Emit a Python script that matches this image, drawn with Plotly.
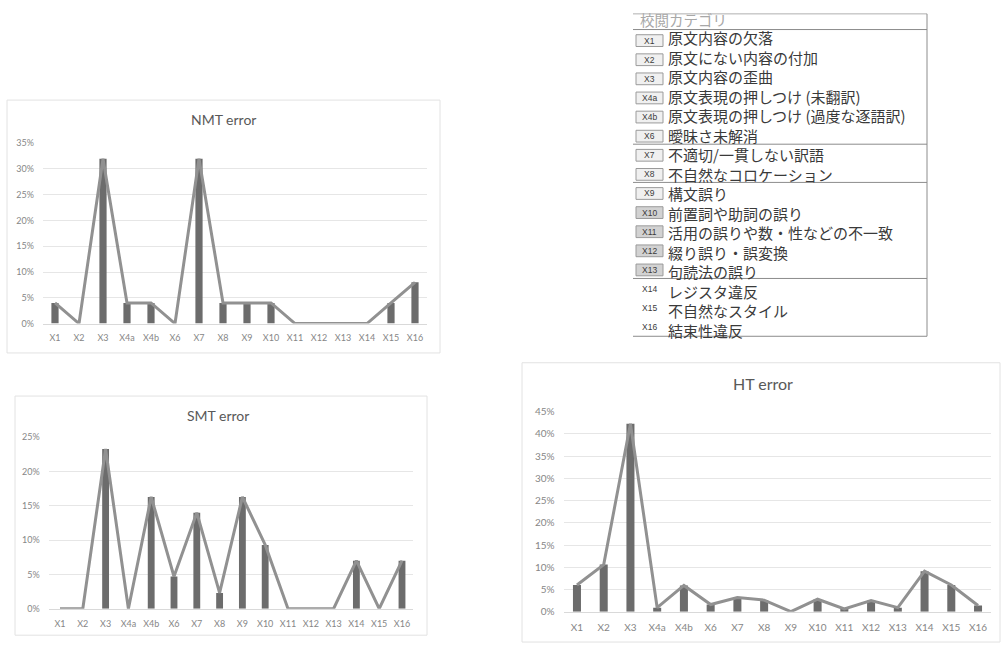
import plotly.graph_objects as go

W, H = 1003, 650

categories = ["X1", "X2", "X3", "X4a", "X4b", "X6", "X7", "X8", "X9", "X10",
              "X11", "X12", "X13", "X14", "X15", "X16"]
nmt_values = [0.04, 0.0, 0.32, 0.04, 0.04, 0.0, 0.32, 0.04, 0.04, 0.04,
              0.0, 0.0, 0.0, 0.0, 0.04, 0.08]
smt_values = [0.0, 0.0, 0.233, 0.0, 0.163, 0.047, 0.14, 0.023, 0.163, 0.093,
              0.0, 0.0, 0.0, 0.07, 0.0, 0.07]
ht_values = [0.06, 0.106, 0.423, 0.009, 0.059, 0.016, 0.032, 0.026, 0.0, 0.028,
             0.006, 0.025, 0.009, 0.091, 0.06, 0.014]

legend_header = "校閲カテゴリ"
legend_codes = categories
legend_labels = [
    "原文内容の欠落",
    "原文にない内容の付加",
    "原文内容の歪曲",
    "原文表現の押しつけ (未翻訳)",
    "原文表現の押しつけ (過度な逐語訳)",
    "曖昧さ未解消",
    "不適切/一貫しない訳語",
    "不自然なコロケーション",
    "構文誤り",
    "前置詞や助詞の誤り",
    "活用の誤りや数・性などの不一致",
    "綴り誤り・誤変換",
    "句読法の誤り",
    "レジスタ違反",
    "不自然なスタイル",
    "結束性違反",
]


def px(x):
    return x / W


def py(y):
    return 1 - y / H


BAR_C = "#6c6c6c"
LINE_C = "#919191"
TICK_C = "#868686"
GRID_C = "#e6e6e6"

charts = [
    # name, values, x-domain px, y px (top, bottom), ymax, title pos, title size, tick size
    ("NMT error", nmt_values, (43, 427), (139, 323), 0.35, (223, 115), 14, 9),
    ("SMT error", smt_values, (48.6, 413.4), (439, 614), 0.25, (218, 417), 14, 9),
    ("HT error", ht_values, (563.6, 991.4), (413, 617), 0.45, (763, 384), 16, 10),
]

fig = go.Figure()
layout = dict(
    width=W, height=H, margin=dict(l=0, r=0, t=0, b=0),
    paper_bgcolor="white", plot_bgcolor="white", showlegend=False,
    font=dict(family="Lato, Open Sans, sans-serif"),
)
annotations = []
shapes = []

for i, (name, vals, xd, yd, ymax, tpos, tsize, ksize) in enumerate(charts):
    n = "" if i == 0 else str(i + 1)
    xa, ya = "x" + n, "y" + n
    fig.add_trace(go.Bar(x=categories, y=vals, xaxis=xa, yaxis=ya,
                         marker=dict(color=BAR_C, line=dict(width=0)),
                         width=0.3, hoverinfo="x+y"))
    fig.add_trace(go.Scatter(x=categories, y=vals, xaxis=xa, yaxis=ya,
                             mode="lines", line=dict(color=LINE_C, width=3),
                             hoverinfo="skip"))
    layout["xaxis" + n] = dict(
        domain=[px(xd[0]), px(xd[1])], anchor=ya, type="category",
        range=[-0.5, 15.5], showgrid=False, showline=True, linecolor="#d9d9d9",
        linewidth=1, ticks="", tickfont=dict(size=ksize, color=TICK_C),
        ticklabelstandoff=6, fixedrange=True,
    )
    layout["yaxis" + n] = dict(
        domain=[py(yd[1]), py(yd[0])], anchor=xa, range=[0, ymax], dtick=0.05,
        tickformat=".0%", showgrid=True, gridcolor=GRID_C, gridwidth=1,
        zeroline=False, showline=False, ticks="",
        tickfont=dict(size=ksize, color=TICK_C), ticklabelstandoff=8,
        fixedrange=True,
    )
    annotations.append(dict(
        x=px(tpos[0]), y=py(tpos[1]), xref="paper", yref="paper",
        text=name, showarrow=False, xanchor="center", yanchor="middle",
        font=dict(size=tsize, color="#595959", family="Lato, sans-serif"),
    ))

# chart panel borders
for (x0, y0, x1, y1) in [(7, 95, 440, 353), (15, 397, 427, 641), (522, 363, 1000, 648)]:
    shapes.append(dict(type="rect", xref="paper", yref="paper",
                       x0=px(x0), x1=px(x1), y0=py(y1), y1=py(y0),
                       line=dict(color="#e2e2e2", width=1), fillcolor="rgba(0,0,0,0)",
                       layer="below"))

# category table
TL, TR, TT, TB = 633, 927, 7, 336
BORDER = "#8c8c8c"
shapes.append(dict(type="line", xref="paper", yref="paper", x0=px(TL), x1=px(TR),
                   y0=py(TT), y1=py(TT), line=dict(color="#b0b0b0", width=1)))
shapes.append(dict(type="line", xref="paper", yref="paper", x0=px(TR), x1=px(TR),
                   y0=py(TT), y1=py(TB), line=dict(color=BORDER, width=1)))
shapes.append(dict(type="line", xref="paper", yref="paper", x0=px(TL), x1=px(TR),
                   y0=py(TB), y1=py(TB), line=dict(color=BORDER, width=1)))
for yy in [23, 140, 179, 277]:
    shapes.append(dict(type="line", xref="paper", yref="paper", x0=px(TL), x1=px(TR),
                       y0=py(yy), y1=py(yy), line=dict(color=BORDER, width=1)))

annotations.append(dict(
    x=px(639), y=py(13), xref="paper", yref="paper", text=legend_header,
    showarrow=False, xanchor="left", yanchor="middle", borderpad=0,
    font=dict(size=14.5, color="#a8a8a8", family="Noto Sans CJK JP"),
))

LABEL_FS = 15
row0, pitch = 34.3, 1.3 * LABEL_FS
for k, code in enumerate(legend_codes):
    cy = row0 + k * pitch
    if k < 13:
        fill = "#d2d2d2" if k >= 9 else "#f0f0f0"
        shapes.append(dict(type="rect", xref="paper", yref="paper",
                           x0=px(636), x1=px(663), y0=py(cy + 6), y1=py(cy - 6),
                           line=dict(color="#9a9a9a", width=1), fillcolor=fill))
    annotations.append(dict(
        x=px(649.5), y=py(cy), xref="paper", yref="paper", text=code,
        showarrow=False, xanchor="center", yanchor="middle",
        font=dict(size=8.5, color="#3c3c3c", family="Liberation Sans"),
    ))

# all label lines in one text block so the rows share Plotly's line spacing
mid = row0 + (len(legend_labels) - 1) * pitch / 2
annotations.append(dict(
    x=px(667), y=py(mid), xref="paper", yref="paper",
    text="<br>".join(legend_labels), align="left", borderpad=0,
    showarrow=False, xanchor="left", yanchor="middle",
    font=dict(size=LABEL_FS, color="#3a3a3a", family="Noto Sans CJK JP"),
))

layout["annotations"] = annotations
layout["shapes"] = shapes
fig.update_layout(**layout)
fig.write_html("out.html")
